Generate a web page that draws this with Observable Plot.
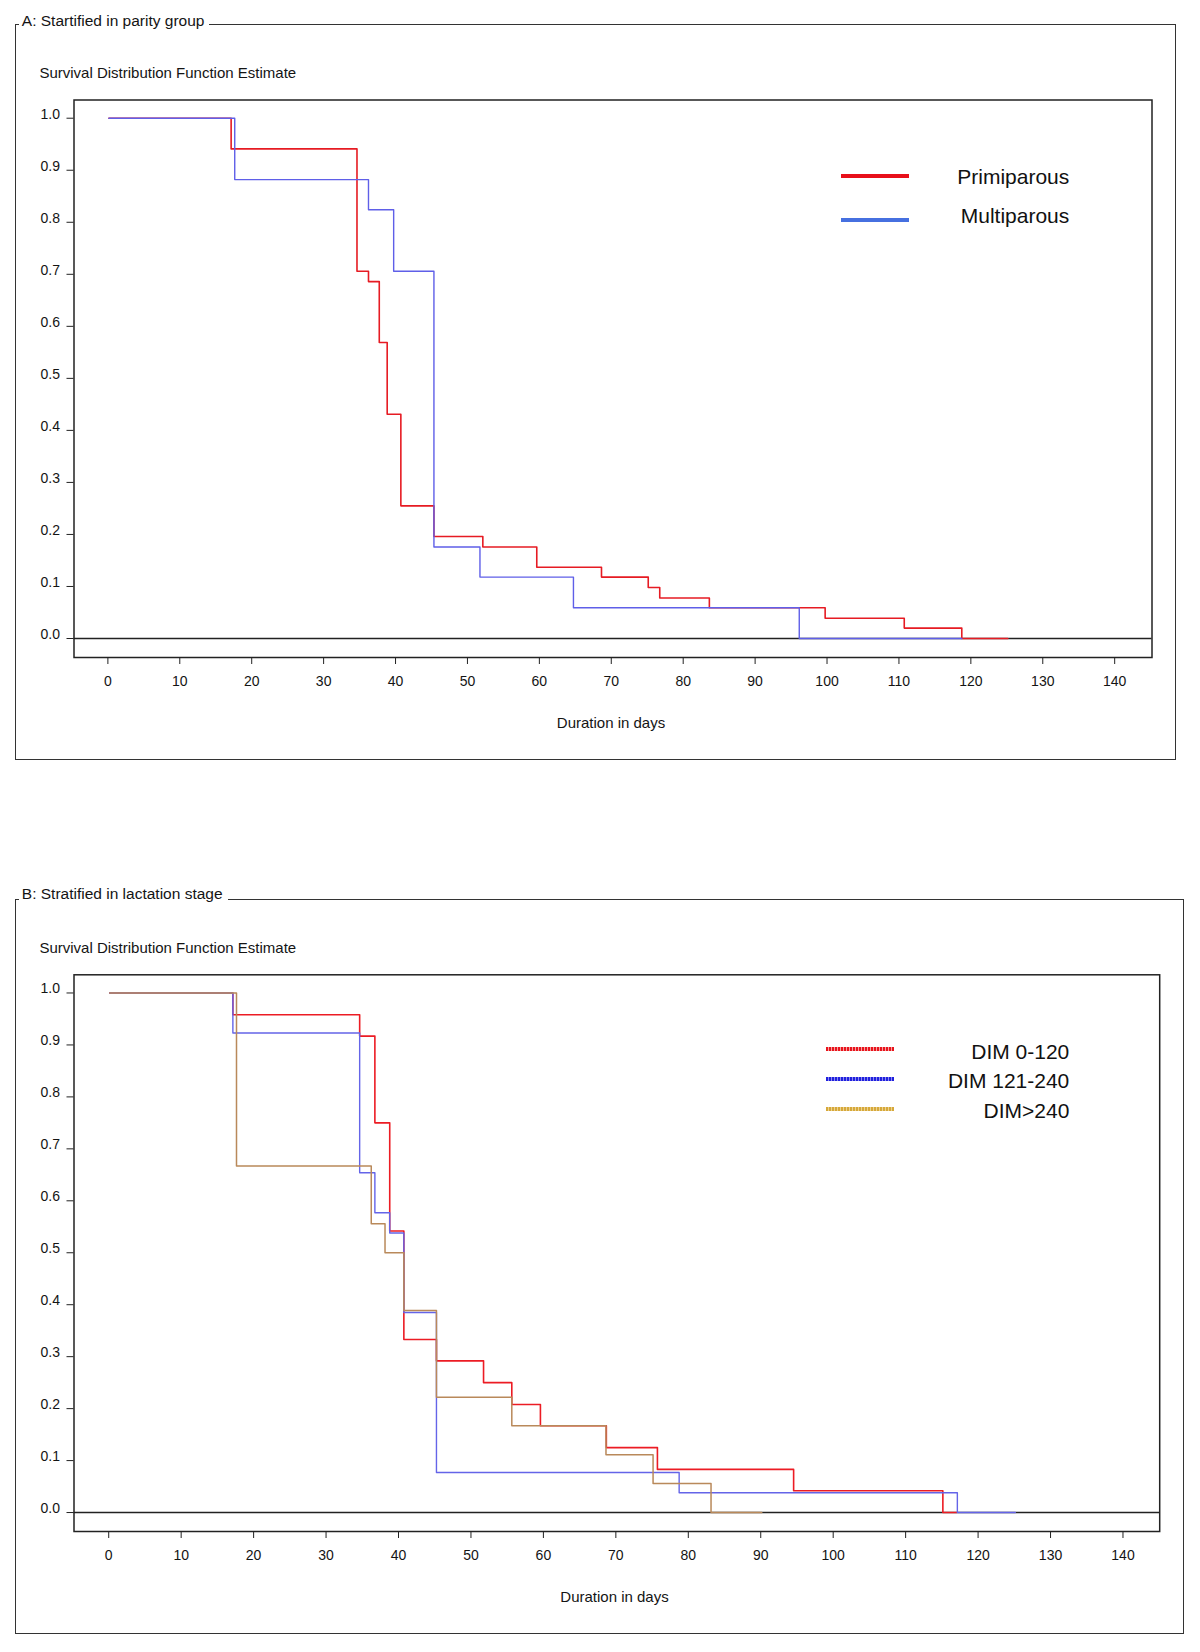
<!DOCTYPE html>
<html><head><meta charset="utf-8">
<script src="https://cdn.jsdelivr.net/npm/d3@7"></script>
<script src="https://cdn.jsdelivr.net/npm/@observablehq/plot@0.6"></script>
<style>
body{margin:0;background:#fff;font-family:"Liberation Sans",Arial,sans-serif;color:#141414}
#page{position:relative;width:1200px;height:1652px;overflow:hidden;background:#fff}
.group{position:absolute;border:1.5px solid #333;box-sizing:border-box}
.gtitle{position:absolute;background:#fff;font-size:15.5px;line-height:18px;padding:0 5px 0 3px;white-space:nowrap}
.ttl{position:absolute;font-size:15px;line-height:18px;white-space:nowrap}
.leg{position:absolute;font-size:21px;line-height:24px;white-space:nowrap;text-align:right;color:#111}
.sw{position:absolute;height:3.5px}
svg.panel{position:absolute;left:0}
</style></head><body><div id="page"></div>
<script>
// ---------- data ----------
const xTicks = [0,10,20,30,40,50,60,70,80,90,100,110,120,130,140];
const yTicks = [0,0.1,0.2,0.3,0.4,0.5,0.6,0.7,0.8,0.9,1.0];

// Panel A: stratified by parity
const primiDays = [0, 17, 34.5, 36.1, 37.6, 38.7, 40.6, 45.2, 52.0, 59.5, 68.5, 75.0, 76.6, 83.5, 99.6, 110.6, 118.6];
const primiSurv = [1, 0.941, 0.706, 0.686, 0.569, 0.431, 0.255, 0.196, 0.176, 0.137, 0.118, 0.098, 0.078, 0.059, 0.039, 0.020, 0];
const primiEnd = 125;
const multiDays = [0, 17.5, 36.1, 39.6, 45.2, 51.6, 64.6, 96.0];
const multiSurv = [1, 0.882, 0.824, 0.706, 0.176, 0.118, 0.059, 0];
const multiEnd = 118.6;

// Panel B: stratified by lactation stage
const dim1Days = [0, 17, 34.5, 36.6, 38.65, 40.6, 45.1, 51.6, 55.5, 59.45, 68.55, 75.6, 94.4, 115.0];
const dim1Surv = [1, 0.958, 0.917, 0.75, 0.542, 0.333, 0.292, 0.25, 0.208, 0.167, 0.125, 0.083, 0.042, 0];
const dim1End = 116.9;
const dim2Days = [0, 17, 34.5, 36.6, 38.65, 40.6, 45.1, 78.6, 117.0];
const dim2Surv = [1, 0.923, 0.654, 0.577, 0.538, 0.385, 0.077, 0.038, 0];
const dim2End = 125;
const dim3Days = [0, 17.5, 36.1, 38.0, 40.6, 45.1, 55.5, 68.5, 75.0, 83.0];
const dim3Surv = [1, 0.667, 0.556, 0.5, 0.389, 0.222, 0.167, 0.111, 0.056, 0];
const dim3End = 90;

const legendA = ["Primiparous", "Multiparous"];
const legendB = ["DIM 0-120", "DIM 121-240", "DIM>240"];

// ---------- helpers ----------
function steps(days, surv, end) {
  const pts = days.map((d, i) => ({day: d, surv: surv[i]}));
  pts.push({day: end, surv: surv[surv.length - 1]});
  return pts;
}
const FONT = '"Liberation Sans", Arial, sans-serif';
const INK = "#141414";

function panel({series, height, mL, mR, mT, mB, xDomain}) {
  const svg = Plot.plot({
    width: 1200, height,
    marginLeft: mL, marginRight: mR, marginTop: mT, marginBottom: mB,
    x: {domain: xDomain, label: null},
    y: {domain: [-0.0365, 1.035], label: null},
    style: {fontFamily: FONT, fontSize: "14px", color: INK, background: "transparent", overflow: "visible"},
    marks: [
      Plot.ruleY([0], {stroke: "#222", strokeWidth: 1.6}),
      ...series.map(s => Plot.line(s.pts, {x: "day", y: "surv", curve: "step-after", stroke: s.color, strokeWidth: s.w})),
      Plot.frame({stroke: "#222", strokeWidth: 1.5}),
      Plot.axisX(xTicks, {tickSize: 7, tickPadding: 12, fontSize: 14, stroke: "#222", fill: INK, label: null, dx: -1}),
      Plot.axisY(yTicks, {tickSize: 7, fill: "none", stroke: "#222", label: null}),
      Plot.axisY(yTicks, {tickSize: 7, tickPadding: 7, stroke: "none", fill: INK, dy: -4, fontSize: 14, tickFormat: d3.format(".1f"), label: null})
    ]
  });
  svg.classList.add("panel");
  return svg;
}

const page = document.getElementById("page");
function el(cls, text, css) {
  const d = document.createElement("div");
  d.className = cls;
  if (text != null) d.textContent = text;
  Object.assign(d.style, css);
  page.appendChild(d);
  return d;
}

// ---------- Panel A ----------
el("group", null, {left: "14.5px", top: "23.5px", width: "1161px", height: "736.5px"});
const svgA = panel({
  series: [
    {pts: steps(primiDays, primiSurv, primiEnd), color: "#e61b23", w: 1.6},
    {pts: steps(multiDays, multiSurv, multiEnd), color: "#5f5fe8", w: 1.4}
  ],
  height: 760, mL: 73.5, mR: 48.5, mT: 99.5, mB: 103, xDomain: [-4.85, 145.05]
});
svgA.style.top = "0px";
page.appendChild(svgA);
el("gtitle", "A: Startified in parity group", {left: "18.8px", top: "11.7px"});
el("ttl", "Survival Distribution Function Estimate", {left: "39.4px", top: "64.3px"});
el("ttl", "Duration in days", {left: "611px", top: "714.3px", transform: "translateX(-50%)"});
el("sw", null, {left: "841px", top: "174px", width: "68px", background: "#e8101a"});
el("sw", null, {left: "841px", top: "218.3px", width: "68px", background: "#4670e0"});
el("leg", legendA[0], {right: "130.7px", top: "164.7px"});
el("leg", legendA[1], {right: "130.7px", top: "203.7px"});

// ---------- Panel B ----------
el("group", null, {left: "14.5px", top: "898.5px", width: "1169.5px", height: "735.5px"});
const svgB = panel({
  series: [
    {pts: steps(dim1Days, dim1Surv, dim1End), color: "#ec1c24", w: 1.6},
    {pts: steps(dim2Days, dim2Surv, dim2End), color: "#6464e8", w: 1.4},
    {pts: steps(dim3Days, dim3Surv, dim3End), color: "#b9895a", w: 1.5}
  ],
  height: 782, mL: 73.5, mR: 40.8, mT: 104.3, mB: 121, xDomain: [-4.93, 144.93]
});
svgB.style.top = "870px";
page.appendChild(svgB);
el("gtitle", "B: Stratified in lactation stage", {left: "18.8px", top: "885.3px"});
el("ttl", "Survival Distribution Function Estimate", {left: "39.4px", top: "938.7px"});
el("ttl", "Duration in days", {left: "614.5px", top: "1587.7px", transform: "translateX(-50%)"});
const swB = [["#e8141c", "#f5a0a0"], ["#2020dd", "#8c8cf0"], ["#d6a83a", "#ecd290"]];
const swY = [1047.3, 1077.3, 1107.3];
swB.forEach(([c1, c2], i) => el("sw", null, {
  left: "825.7px", top: swY[i] + "px", width: "68.3px", height: "4px",
  background: `repeating-linear-gradient(90deg, ${c1} 0 2px, ${c2} 2px 3px)`
}));
const txY = [1039.7, 1069, 1099];
legendB.forEach((t, i) => el("leg", t, {right: "130.7px", top: txY[i] + "px"}));
</script></body></html>
